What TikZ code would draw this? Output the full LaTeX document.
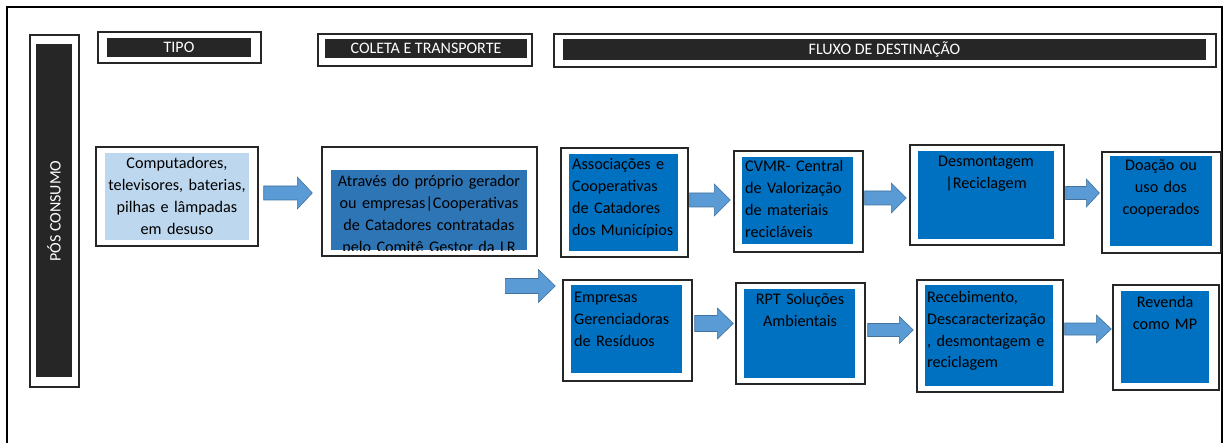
\documentclass[tikz,border=0pt]{standalone}
\usepackage{fontspec}
\setmainfont{Carlito}
\usetikzlibrary{fit,calc}

\definecolor{hdrdark}{HTML}{262626}
\definecolor{paleblue}{HTML}{BDD7EE}
\definecolor{midblue}{HTML}{2E75B6}
\definecolor{boxblue}{HTML}{0070C0}
\definecolor{arrfill}{HTML}{5B9BD5}
\definecolor{arredge}{HTML}{41719C}

\tikzset{
  framebox/.style={draw=black, line width=1.2pt},
  outerbox/.style={draw=black!85, line width=1.4pt, fill=white, inner sep=0pt},
  innerbox/.style={draw=none, inner sep=0pt},
  hdrtext/.style={text=white, font=\fontsize{16}{19}\selectfont, inner sep=0pt},
  bodytext/.style={text=black, font=\fontsize{16.2}{22}\selectfont, inner sep=0pt},
  blockarr/.style={fill=arrfill, draw=arredge, line width=0.6pt, line join=miter},
}

% outer white box with a filled panel inside it
\newcommand\panel[6]{%
  \node[outerbox, fit={(#2) (#3)}] (#1) {};
  \node[innerbox, fill=#6, fit={(#4) (#5)}] (#1-in) {};
}

% block arrow: tail point, tip point, half body, half head, head length
\newcommand\blockarrow[5]{%
  \filldraw[blockarr] ($(#1)+(0,-#3)$) -- ($(#2)+(-#5,-#3)$) -- ($(#2)+(-#5,-#4)$)
    -- (#2) -- ($(#2)+(-#5,#4)$) -- ($(#2)+(-#5,#3)$) -- ($(#1)+(0,#3)$) -- cycle;
}

\begin{document}
\begin{tikzpicture}[x=1pt,y=-1pt]
\useasboundingbox (0,0) rectangle (1225,443);
\clip (0,0) rectangle (1225,443);

% surrounding frame (runs past the lower edge)
\draw[framebox] (7,7) rectangle (1222,480);

% headers
\panel{pos}{30,35}{79,387}{36,44}{72,377}{hdrdark}
\node[hdrtext, rotate=90] (pos-t) at (54,211) {PÓS CONSUMO};

\panel{tipo}{98,32}{261,63}{107,38}{251,57}{hdrdark}
\node[hdrtext] (tipo-t) at (tipo-in) {TIPO};

\panel{col}{318,34}{532,66}{325,39}{527,58}{hdrdark}
\node[hdrtext] (col-t) at (col-in) {COLETA E TRANSPORTE};

\panel{flx}{554,34}{1216,67}{563,39}{1206,60}{hdrdark}
\node[hdrtext] (flx-t) at (flx-in) {FLUXO DE DESTINAÇÃO};

% type and collection
\panel{comp}{96,147}{258,246}{105,153}{249,240}{paleblue}
\node[bodytext, text width=150pt, align=center, anchor=base] (comp-t) at (177,169)
  {Computadores,\\televisores, baterias,\\pilhas e lâmpadas\\em desuso};

\panel{ate}{322,147}{537,256}{331,170}{527,250}{midblue}
\begin{scope}
  \clip (ate-in.north west) rectangle (ate-in.south east);
  \node[bodytext, text width=200pt, align=center, anchor=base] (ate-t) at (429,187)
    {Através do próprio gerador\\ou empresas|Cooperativas\\de Catadores contratadas\\pelo Comitê Gestor da LR};
\end{scope}

% upper destination row
\panel{assoc}{561,148}{688,257}{569,154}{678,251}{boxblue}
\node[bodytext, text width=110pt, align=left, anchor=base west] (assoc-t) at (572,170)
  {Associações e\\Cooperativas\\de Catadores\\dos Municípios};

\panel{cvmr}{734,151}{863,252}{742,157}{853,244}{boxblue}
\node[bodytext, text width=110pt, align=left, anchor=base west] (cvmr-t) at (745,172)
  {CVMR- Central\\de Valorização\\de materiais\\recicláveis};

\panel{desm}{910,145}{1064,245}{918,151}{1054,239}{boxblue}
\node[bodytext, text width=130pt, align=center, anchor=base] (desm-t) at (986,167)
  {Desmontagem\\|Reciclagem};

\panel{doa}{1102,152}{1221,253}{1110,156}{1212,246}{boxblue}
\node[bodytext, text width=100pt, align=center, anchor=base] (doa-t) at (1161,171)
  {Doação ou\\uso dos\\cooperados};

% lower destination row
\panel{emp}{563,280}{692,381}{571,285}{682,373}{boxblue}
\node[bodytext, text width=110pt, align=left, anchor=base west] (emp-t) at (574,302)
  {Empresas\\Gerenciadoras\\de Resíduos};

\panel{rpt}{736,283}{865,384}{744,289}{855,378}{boxblue}
\node[bodytext, text width=110pt, align=center, anchor=base] (rpt-t) at (800,305)
  {RPT Soluções\\Ambientais};

\panel{rec}{917,280}{1063,392}{925,285}{1053,386}{boxblue}
\node[bodytext, text width=128pt, align=left, anchor=base west] (rec-t) at (927,302)
  {Recebimento,\\Descaracterização\\, desmontagem e\\reciclagem};

\panel{rev}{1113,285}{1219,390}{1121,291}{1209,383}{boxblue}
\node[bodytext, text width=88pt, align=center, anchor=base] (rev-t) at (1165,308)
  {Revenda\\como MP};

% block arrows between stages
\blockarrow{$(comp.east |- 0,193)+(5,0)$}{$(ate.west |- 0,193)+(-9,0)$}{7}{16}{15}
\blockarrow{$(emp.west |- 0,286)+(-57,0)$}{$(emp.west |- 0,286)+(-7,0)$}{7.5}{16.5}{17}
\blockarrow{$(assoc.east |- 0,200)+(1,0)$}{$(cvmr.west |- 0,200)+(-3,0)$}{7}{16}{16}
\blockarrow{$(cvmr.east |- 0,198)+(1,0)$}{$(desm.west |- 0,198)+(-3,0)$}{7}{15}{15}
\blockarrow{$(desm.east |- 0,193)+(1,0)$}{$(doa.west |- 0,193)+(-2,0)$}{6.5}{14}{13}
\blockarrow{$(emp.east |- 0,323.5)+(2,0)$}{$(rpt.west |- 0,323.5)+(-2,0)$}{8}{15.5}{16}
\blockarrow{$(rpt.east |- 0,330)+(2,0)$}{$(rec.west |- 0,330)+(-3,0)$}{6.5}{13.5}{14}
\blockarrow{$(rec.east |- 0,329)+(1,0)$}{$(rev.west |- 0,329)+(-1,0)$}{6}{14}{15}
\end{tikzpicture}
\end{document}
